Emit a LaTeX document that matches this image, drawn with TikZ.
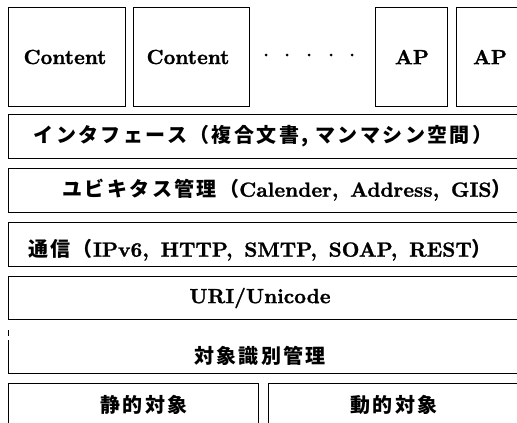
\documentclass[tikz,border=0pt]{standalone}
\usepackage{fontspec}
\newfontfamily\latfont{lmroman10-bold.otf}[FakeBold=1.2,WordSpace=1.5]
\newfontfamily\jpfont{Noto Sans CJK JP}[LetterSpace=12]
\newcommand{\jt}[1]{{\jpfont\bfseries\fontsize{20}{23}\selectfont #1}}
\begin{document}
\begin{tikzpicture}[x=1pt,y=-1pt,
  boxline/.style={draw=black,line width=0.9pt},
  lbl/.style={inner sep=0pt,font=\latfont\fontsize{20.5}{24}\selectfont},
  dotmark/.style={circle,fill=black,inner sep=0pt,minimum size=3pt}]
\useasboundingbox (0,0) rectangle (517,423);
\clip (0,0) rectangle (517,423);
% top row boxes
\draw[boxline] (8,7) rectangle (125,106);
\draw[boxline] (133,7) rectangle (249,106);
\draw[boxline] (375,7) rectangle (447,106);
\draw[boxline] (456,7) rectangle (524,106);
\node[lbl] (c1) at (65,57) {Content};
\node[lbl] (c2) at (188,57) {Content};
\node[dotmark] (d1) at (266,55) {};
\node[dotmark] (d2) at (287,55) {};
\node[dotmark] (d3) at (309,55) {};
\node[dotmark] (d4) at (331,55) {};
\node[dotmark] (d5) at (352,55) {};
\node[lbl] (ap1) at (412,57) {AP};
\node[lbl] (ap2) at (490,57) {AP};
% layer rows
\draw[boxline] (530,114) -| (8,158) -- (530,158);
\draw[boxline] (530,168) -| (8,212) -- (530,212);
\draw[boxline] (530,222) -| (8,266) -- (530,266);
\draw[boxline] (530,276) -| (8,319) -- (530,319);
\draw[boxline] (8,330) -- (8,336);
\draw[boxline] (8,340) -- (8,373) -- (530,373);
\draw[boxline] (8,430) -- (8,383) -- (258,383) -- (258,430);
\draw[boxline] (268,430) -- (268,383) -- (530,383);
\node[lbl] (ifc) at (263,136) {\jt{インタフェース（複合文書, マンマシン空間）}};
\node[lbl] (ubq) at (287,190) {\jt{ユビキタス管理（}Calender, Address, GIS\jt{）}};
\node[lbl] (com) at (260,250) {\jt{通信（}IPv6, HTTP, SMTP, SOAP, REST\jt{）}};
\node[lbl] (uri) at (260,298) {URI/Unicode};
\node[lbl] (oid) at (260,356) {\jt{対象識別管理}};
\node[lbl] (sta) at (144,405) {\jt{静的対象}};
\node[lbl] (dyn) at (394,405) {\jt{動的対象}};
\end{tikzpicture}
\end{document}
